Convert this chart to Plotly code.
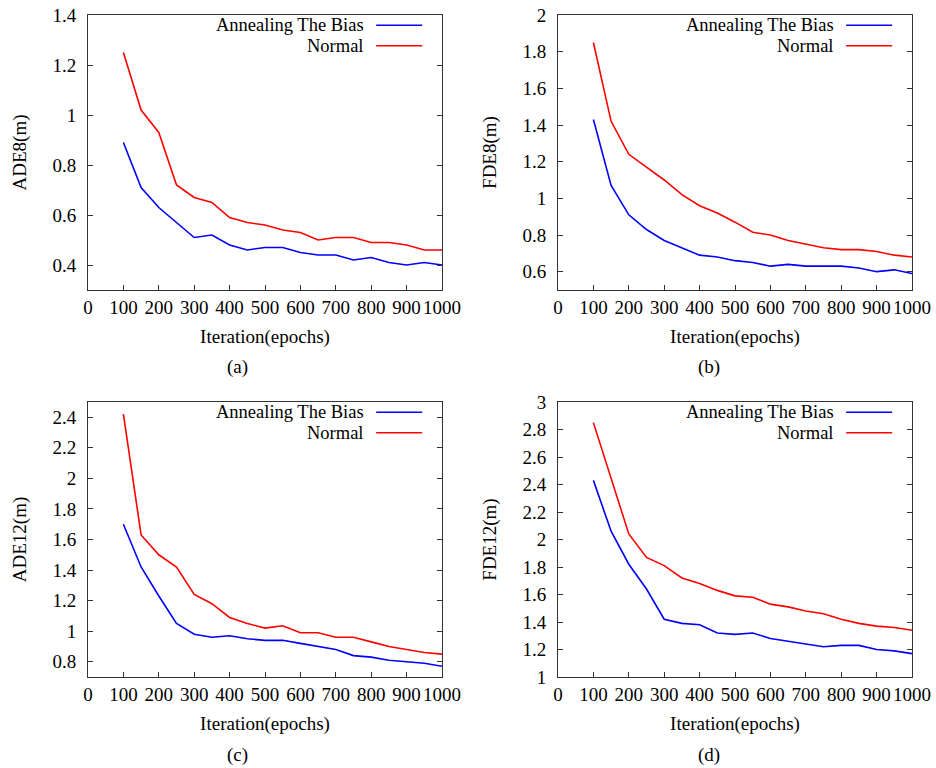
import plotly.graph_objects as go
from plotly.subplots import make_subplots

# epochs on the x axis
epochs = [100, 150, 200, 250, 300, 350, 400, 450, 500, 550,
          600, 650, 700, 750, 800, 850, 900, 950, 1000]

# (a) ADE8
ade8_bias = [0.89, 0.71, 0.63, 0.57, 0.51, 0.52, 0.48, 0.46, 0.47, 0.47,
             0.45, 0.44, 0.44, 0.42, 0.43, 0.41, 0.40, 0.41, 0.40]
ade8_normal = [1.25, 1.02, 0.93, 0.72, 0.67, 0.65, 0.59, 0.57, 0.56, 0.54,
               0.53, 0.50, 0.51, 0.51, 0.49, 0.49, 0.48, 0.46, 0.46]

# (b) FDE8
fde8_bias = [1.43, 1.07, 0.91, 0.83, 0.77, 0.73, 0.69, 0.68, 0.66, 0.65,
             0.63, 0.64, 0.63, 0.63, 0.63, 0.62, 0.60, 0.61, 0.59]
fde8_normal = [1.85, 1.42, 1.24, 1.17, 1.10, 1.02, 0.96, 0.92, 0.87, 0.815,
               0.80, 0.77, 0.75, 0.73, 0.72, 0.72, 0.71, 0.69, 0.68]

# (c) ADE12
ade12_bias = [1.70, 1.42, 1.23, 1.05, 0.98, 0.96, 0.97, 0.95, 0.94, 0.94,
              0.92, 0.90, 0.88, 0.84, 0.83, 0.81, 0.80, 0.79, 0.77]
ade12_normal = [2.42, 1.63, 1.50, 1.42, 1.24, 1.18, 1.09, 1.05, 1.02, 1.035,
                0.99, 0.99, 0.96, 0.96, 0.93, 0.90, 0.88, 0.86, 0.85]

# (d) FDE12
fde12_bias = [2.43, 2.06, 1.82, 1.64, 1.42, 1.39, 1.38, 1.32, 1.31, 1.32,
              1.28, 1.26, 1.24, 1.22, 1.23, 1.23, 1.20, 1.19, 1.17]
fde12_normal = [2.85, 2.44, 2.04, 1.87, 1.81, 1.72, 1.68, 1.63, 1.59, 1.58,
                1.53, 1.51, 1.48, 1.46, 1.42, 1.39, 1.37, 1.36, 1.34]

panels = [
    (1, 1, "ADE8(m)", ade8_bias, ade8_normal, [0.3, 1.4], "(a)"),
    (1, 2, "FDE8(m)", fde8_bias, fde8_normal, [0.5, 2.0], "(b)"),
    (2, 1, "ADE12(m)", ade12_bias, ade12_normal, [0.7, 2.5], "(c)"),
    (2, 2, "FDE12(m)", fde12_bias, fde12_normal, [1.0, 3.0], "(d)"),
]

FONT = "Liberation Serif, Times New Roman, serif"
BLUE = "#0000ff"
RED = "#ff0000"

fig = make_subplots(rows=2, cols=2)

xdom = {1: [88 / 936, 442 / 936], 2: [558 / 936, 912 / 936]}
ydom = {1: [1 - 290 / 768, 1 - 15 / 768], 2: [1 - 677 / 768, 1 - 402 / 768]}
label_x = {1: 237 / 936, 2: 709 / 936}
label_y = {1: 1 - 367 / 768, 2: 1 - 755 / 768}

for i, (r, c, ytitle, bias, normal, yr, lab) in enumerate(panels):
    fig.add_trace(go.Scatter(x=epochs, y=bias, mode="lines",
                             line=dict(color=BLUE, width=1.6),
                             name="Annealing The Bias", showlegend=False), row=r, col=c)
    fig.add_trace(go.Scatter(x=epochs, y=normal, mode="lines",
                             line=dict(color=RED, width=1.6),
                             name="Normal", showlegend=False), row=r, col=c)

    fig.update_xaxes(range=[0, 1000], dtick=100, tick0=0, domain=xdom[c],
                     ticks="inside", ticklen=5, tickcolor="#333",
                     showline=True, linecolor="#333", linewidth=1, mirror=True,
                     showgrid=False, zeroline=False, automargin=False,
                     tickfont=dict(family=FONT, size=19, color="black"),
                     title=dict(text="Iteration(epochs)", standoff=12,
                                font=dict(family=FONT, size=19, color="black")),
                     row=r, col=c)
    fig.update_yaxes(range=yr, dtick=0.2, tick0=0, domain=ydom[r],
                     ticks="inside", ticklen=5, tickcolor="#333",
                     showline=True, linecolor="#333", linewidth=1, mirror="ticks",
                     showgrid=False, zeroline=False, automargin=False,
                     ticklabelstandoff=7,
                     tickfont=dict(family=FONT, size=19, color="black"),
                     title=dict(text=ytitle, standoff=20,
                                font=dict(family=FONT, size=19, color="black")),
                     row=r, col=c)

    ax = "" if i == 0 else str(i + 1)
    xref = "x" + ax + " domain"
    yref = "y" + ax + " domain"
    # gnuplot-style key: text right-aligned, line sample on the right
    for k, (txt, col) in enumerate([("Annealing The Bias", BLUE), ("Normal", RED)]):
        yy = 0.9628 - k * 0.0746
        fig.add_annotation(x=0.785, y=yy, xref=xref, yref=yref, text=txt,
                           showarrow=False, xanchor="right", yanchor="middle",
                           font=dict(family=FONT, size=18.5, color="black"))
        fig.add_shape(type="line", xref=xref, yref=yref,
                      x0=0.814, x1=0.944, y0=yy, y1=yy,
                      line=dict(color=col, width=1.6))

    fig.add_annotation(x=label_x[c], y=label_y[r], xref="paper", yref="paper",
                       text=lab, showarrow=False, xanchor="center", yanchor="middle",
                       font=dict(family=FONT, size=19, color="black"))

fig.update_layout(width=936, height=768, autosize=False,
                  margin=dict(l=0, r=0, t=0, b=0),
                  paper_bgcolor="white", plot_bgcolor="white",
                  font=dict(family=FONT, color="black"))

# the page's default body margin would push the figure 8px down and right
fig.write_html("out.html", config={"displayModeBar": False},
               post_script="document.body.style.margin = '0';")
